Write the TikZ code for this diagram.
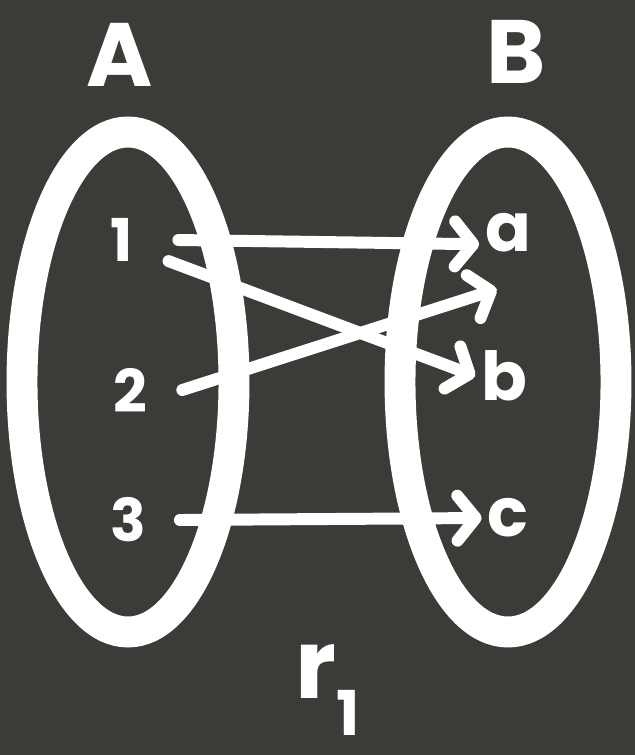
\documentclass[tikz,border=0pt]{standalone}
\usepackage{fontspec}
\usetikzlibrary{arrows.meta}
\newfontfamily\chalk{Poppins}
\definecolor{board}{HTML}{3B3B37}

\begin{document}
\begin{tikzpicture}[x=0.025cm,y=-0.025cm,
  ring/.style={draw=white,line width=22pt},
  link/.style={draw=white,line width=8.5pt,line cap=round,
    -{Straight Barb[length=13pt,width=32pt,line cap=round,line join=round]}},
  lbl/.style={text=white,inner sep=0pt,font=\chalk\bfseries}]
% board
\fill[board] (0,0) rectangle (635,755);
\useasboundingbox (0,0) rectangle (635,755);
% sets
\draw[ring] (128,382) ellipse [x radius=106, y radius=250];
\draw[ring] (508,382) ellipse [x radius=108, y radius=250];
\node[lbl,font=\chalk\bfseries\fontsize{64}{64}\selectfont] (setA) at (120,55) {A};
\node[lbl,font=\chalk\bfseries\fontsize{64}{64}\selectfont] (setB) at (516,52) {B};
% elements of A
\node[lbl,font=\chalk\bfseries\fontsize{42}{42}\selectfont] (n1) at (122,240) {1};
\node[lbl,font=\chalk\bfseries\fontsize{42}{42}\selectfont] (n2) at (130,390) {2};
\node[lbl,font=\chalk\bfseries\fontsize{42}{42}\selectfont] (n3) at (128,520) {3};
% elements of B
\node[lbl,font=\chalk\bfseries\fontsize{48}{48}\selectfont] (ea) at (508,233) {a};
\node[lbl,font=\chalk\bfseries\fontsize{48}{48}\selectfont] (eb) at (504,376) {b};
\node[lbl,font=\chalk\bfseries\fontsize{48}{48}\selectfont] (ec) at (508,518) {c};
% relation
\draw[link] ([xshift=32pt]n1.east) -- ([xshift=-4pt,yshift=-8pt]ea.west);
\draw[link] ([xshift=25pt,yshift=-15pt]n1.east) -- ([xshift=-4pt]eb.west);
\draw[link] ([xshift=25pt]n2.east) -- ([xshift=-8pt,yshift=-26pt]ea.south);
\draw[link] ([xshift=24pt]n3.east) -- ([xshift=-4pt]ec.west);
% name
\node[lbl,font=\chalk\bfseries\fontsize{68}{68}\selectfont] (rel) at (328,690)
  {r\raisebox{-0.38em}{\fontsize{44}{44}\selectfont 1}};
\end{tikzpicture}
\end{document}
